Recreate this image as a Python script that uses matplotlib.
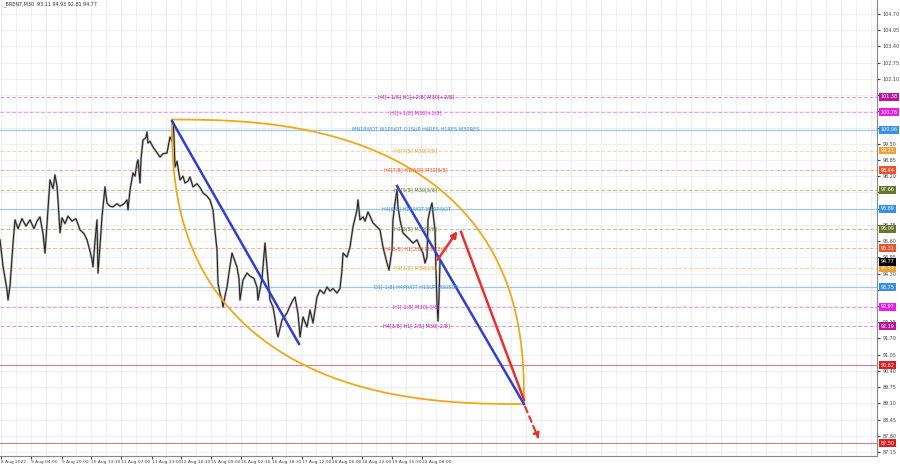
import numpy as np
import matplotlib.pyplot as plt
import matplotlib.transforms as mtransforms

# Precio BRENT M30 (posicion en barras, cierre aproximado)
precio_x = [0, 3, 7, 8, 10, 13, 15, 18, 22, 26, 30, 34, 37, 40, 43, 45, 47, 50, 53, 55,
            57, 58, 60, 62, 65, 68, 72, 76, 80, 84, 87, 90, 92, 93, 95, 97, 98, 100, 102, 105,
            107, 110, 113, 117, 120, 124, 127, 128, 130, 133, 135, 137, 138, 140, 141, 143, 146, 147, 148, 150,
            153, 156, 160, 163, 167, 170, 172, 173, 174, 175, 177, 180, 183, 185, 188, 190, 193, 197, 200, 203,
            207, 210, 213, 215, 217, 218, 220, 222, 223, 225, 227, 230, 232, 234, 237, 239, 240, 243, 247, 250,
            254, 257, 258, 262, 265, 267, 270, 273, 275, 277, 278, 280, 282, 285, 287, 290, 293, 295, 298, 300,
            303, 307, 310, 313, 317, 320, 324, 327, 330, 333, 337, 340, 342, 343, 347, 350, 353, 357, 358, 360,
            363, 365, 368, 370, 373, 377, 380, 383, 387, 389, 392, 393, 395, 397, 398, 400, 403, 407, 410, 413,
            417, 420, 423, 425, 427, 428, 430, 432, 433, 435, 436, 437, 438, 439, 440]
precio_y = [95.65, 94.60, 93.64, 93.24, 93.80, 95.50, 96.45, 96.10, 96.50, 96.20, 96.45, 96.10, 96.40, 96.57, 95.90, 95.12, 96.30, 98.05, 97.70, 98.25,
            97.80, 97.25, 95.93, 96.53, 96.30, 96.60, 96.40, 96.50, 96.05, 95.90, 95.65, 95.20, 94.85, 94.57, 95.60, 96.45, 94.32, 95.40, 96.57, 97.77,
            97.12, 97.00, 96.97, 97.10, 97.00, 97.10, 97.25, 96.85, 97.65, 98.33, 98.20, 98.73, 98.85, 97.93, 98.90, 99.65, 99.75, 99.97, 99.53, 99.60,
            99.37, 99.20, 98.97, 99.10, 99.13, 99.77, 99.60, 100.37, 99.80, 98.57, 98.80, 98.05, 98.20, 97.93, 98.00, 98.17, 97.77, 97.90, 97.75, 97.53,
            97.40, 97.25, 96.85, 96.00, 95.25, 93.92, 93.50, 93.24, 92.96, 93.40, 93.76, 94.60, 95.12, 94.90, 94.56, 94.10, 93.24, 94.04, 94.32, 94.20,
            94.10, 93.76, 93.24, 94.10, 95.52, 94.56, 93.24, 92.96, 92.50, 91.92, 91.76, 92.10, 92.44, 92.60, 92.72, 93.00, 93.24, 93.36, 92.70, 91.76,
            92.56, 92.16, 92.84, 92.32, 93.36, 93.64, 93.50, 93.76, 93.60, 93.70, 93.52, 93.70, 94.44, 95.12, 94.96, 95.36, 96.17, 96.85, 97.25, 96.45,
            96.57, 96.40, 96.77, 96.60, 96.33, 96.17, 96.05, 95.36, 94.72, 94.44, 95.25, 96.45, 97.13, 97.65, 96.97, 96.45, 95.93, 95.77, 95.65, 95.52,
            95.65, 95.36, 95.12, 94.72, 94.96, 96.45, 96.85, 97.13, 96.73, 96.05, 94.44, 93.12, 92.40, 93.36, 94.77]

# Niveles horizontales (Murrey) con etiqueta y color
niveles = [101.38, 100.76, 100.06, 99.23, 98.44, 97.66, 96.89, 96.09, 95.31, 94.53, 93.75, 92.97, 92.19]
textos = ['H4[+1/8] H1[+2/8] M30[+2/8]', 'H1[+1/8] M30[+1/8]',
          'MN1PIVOT W1PIVOT D1SUP H4RES H1RES M30RES', 'H1[7/8] M30[7/8]',
          'H4[7/8] H1[6/8] M30[6/8]', 'H1[5/8] M30[5/8]', 'H4[6/8] H1PIVOT M30PIVOT',
          'H1[3/8] M30[3/8]', 'H4[5/8] H1[2/8] M30[2/8]', 'H1[1/8] M30[1/8]',
          'D1[-1/8] H4PIVOT H1SUP M30SUP', 'H1[-1/8] M30[-1/8]', 'H4[3/8] H1[-2/8] M30[-2/8]']
colores = ['#b5179e', '#e61ee6', '#3a8ee6', '#f0a030', '#e8552a', '#66772b', '#3a8ee6',
           '#66772b', '#e8552a', '#f0a030', '#3a8ee6', '#e61ee6', '#b5179e']
niveles_rojos = [90.62, 87.50]
precio_actual = 94.77

# Escala de precios y etiquetas de tiempo
ticks_precio = [round(87.15 + 0.65 * k, 2) for k in range(28)]
ticks_x = [1, 31, 62, 91, 121, 152, 181, 211, 241, 272, 302, 332, 362, 392, 422]
etiquetas_x = ['8 Aug 2022', '9 Aug 04:00', '9 Aug 20:00', '10 Aug 13:30', '11 Aug 07:00',
               '11 Aug 23:00', '12 Aug 16:30', '15 Aug 09:00', '16 Aug 02:30', '16 Aug 18:30',
               '17 Aug 12:00', '18 Aug 06:00', '18 Aug 22:00', '19 Aug 15:30', '22 Aug 08:00']

# Lineas dibujadas (barra inicio, precio inicio, barra fin, precio fin)
linea_azul1 = (172, 100.41, 299, 91.48)
linea_azul2 = (397, 97.81, 524, 89.07)
flecha_roja = (436, 94.76, 459, 96.09)
linea_roja = (461, 95.97, 524, 89.24)
flecha_discontinua = (524, 89.07, 540, 87.55)
arco = (172, 100.47, 524, 89.07)

fs = 3.5

fig = plt.figure(figsize=(9, 4.68), dpi=100)
ax = fig.add_axes([0, 12 / 468, 877 / 900, 456 / 468])
ax.set_xlim(0, 877)
ax.set_ylim(86.99, 105.26)

# rejilla
for t in ticks_precio:
    ax.axhline(t, color='#ececec', lw=0.6, zorder=0)
for t in np.arange(1, 877, 15):
    ax.axvline(t, color='#ececec', lw=0.6, zorder=0)

# niveles
for nivel, texto, color in zip(niveles, textos, colores):
    if color == '#3a8ee6':
        ax.axhline(nivel, color='#9cc8ee', lw=0.9, zorder=1)
    else:
        ax.axhline(nivel, color=color, lw=0.7, alpha=0.45, ls=(0, (4, 2)), zorder=1)
    ax.text(416, nivel, texto, color=color, fontsize=3.6, ha='center', va='center', zorder=5)
for nivel in niveles_rojos:
    ax.axhline(nivel, color='#d08080', lw=0.8, zorder=1)

# precio
ax.plot(precio_x, precio_y, color='#a8a8a8', lw=1.6, zorder=2)
ax.plot(precio_x, precio_y, color='#1e1e1e', lw=0.7, zorder=3)

# arcos (forma de superelipse)
x0, y0, x1, y1 = arco
t = np.linspace(0, np.pi / 2, 200)
n = 2.5
c = np.cos(t) ** (2 / n)
s = np.sin(t) ** (2 / n)
ax.plot(x0 + (x1 - x0) * c, y1 + (y0 - y1) * s, color='#f0a818', lw=1.3, zorder=4)
ax.plot(x1 - (x1 - x0) * c, y0 - (y0 - y1) * s, color='#f0a818', lw=1.3, zorder=4)

for a in (linea_azul1, linea_azul2):
    ax.plot([a[0], a[2]], [a[1], a[3]], color='#2e3fd0', lw=1.8, zorder=4)
ax.plot([linea_roja[0], linea_roja[2]], [linea_roja[1], linea_roja[3]], color='#e8302f', lw=1.8, zorder=4)
ax.annotate('', xy=(flecha_roja[2], flecha_roja[3]), xytext=(flecha_roja[0], flecha_roja[1]),
            arrowprops=dict(arrowstyle='-|>', color='#e8302f', lw=1.8, mutation_scale=9), zorder=4)
ax.annotate('', xy=(flecha_discontinua[2], flecha_discontinua[3]),
            xytext=(flecha_discontinua[0], flecha_discontinua[1]),
            arrowprops=dict(arrowstyle='-|>', color='#e8302f', lw=1.5, ls=(0, (3, 2)), mutation_scale=9), zorder=4)

# ejes
for lado in ['top', 'left']:
    ax.spines[lado].set_visible(False)
ax.spines['right'].set_color('#888888')
ax.spines['bottom'].set_color('#888888')
ax.yaxis.tick_right()
ocupados = niveles + niveles_rojos + [precio_actual]
ax.set_yticks(ticks_precio)
ax.set_yticklabels([f'{v:.2f}' if min(abs(v - o) for o in ocupados) > 0.13 else ''
                    for v in ticks_precio])
ax.tick_params(axis='y', labelsize=fs, colors='#444444', length=2, pad=2)
ax.set_xticks(ticks_x)
ax.set_xticklabels(etiquetas_x, ha='left')
ax.tick_params(axis='x', labelsize=3.2, colors='#444444', length=2, pad=1)

tr = mtransforms.blended_transform_factory(ax.transAxes, ax.transData)
cajas = list(zip(niveles, colores)) + [(v, '#e02020') for v in niveles_rojos] + [(precio_actual, 'black')]
for nivel, color in cajas:
    ax.text(1.004, nivel, f'{nivel:.2f}', transform=tr, fontsize=fs, color='white', va='center', ha='left',
            bbox=dict(boxstyle='square,pad=0.3', fc=color, ec='none'), zorder=10, clip_on=False)

ax.text(0.003, 0.997, '_BRENT,M30  93.11 94.93 92.81 94.77', transform=ax.transAxes, fontsize=fs,
        color='#333333', ha='left', va='top')

fig.savefig('out.png', dpi=100)
